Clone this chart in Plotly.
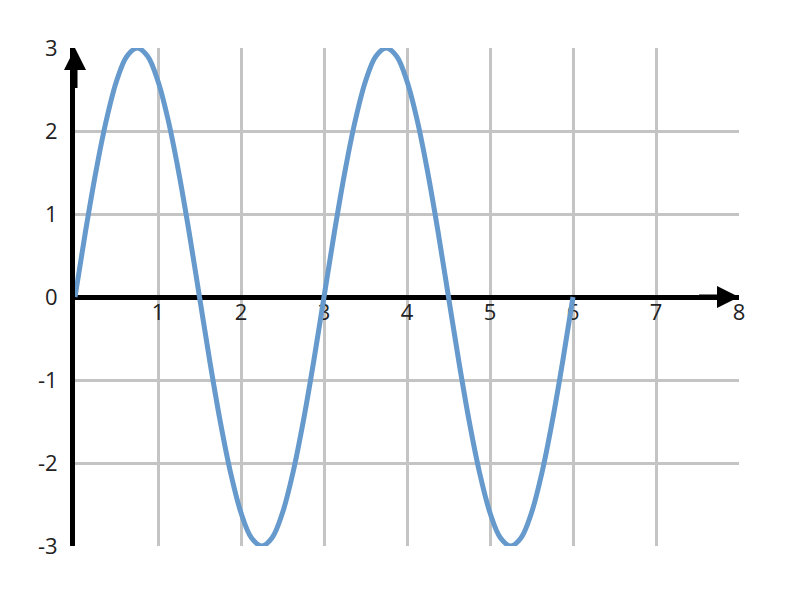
import plotly.graph_objects as go

x_vals = [i * 0.125 for i in range(49)]
y_vals = [0, 0.78, 1.5, 2.12, 2.6, 2.9, 3, 2.9, 2.6, 2.12, 1.5, 0.78,
          0, -0.78, -1.5, -2.12, -2.6, -2.9, -3, -2.9, -2.6, -2.12, -1.5, -0.78,
          0, 0.78, 1.5, 2.12, 2.6, 2.9, 3, 2.9, 2.6, 2.12, 1.5, 0.78,
          0, -0.78, -1.5, -2.12, -2.6, -2.9, -3, -2.9, -2.6, -2.12, -1.5, -0.78,
          0]

x_ticks = [1, 2, 3, 4, 5, 6, 7, 8]
x_tick_labels = ["1", "2", "3", "4", "5", "6", "7", "8"]
y_ticks = [-3, -2, -1, 0, 1, 2, 3]
y_tick_labels = ["-3", "-2", "-1", "0", "1", "2", "3"]

fig = go.Figure()
fig.add_trace(go.Scatter(
    x=x_vals, y=y_vals, mode="lines",
    line=dict(color="#6699CC", width=5, shape="spline", smoothing=1.0),
    hoverinfo="skip", showlegend=False,
))

grid = "#C4C4C4"
tick_font = dict(family="Open Sans", size=22, color="#222222")
fig.update_layout(
    width=800, height=600,
    margin=dict(l=67, r=69, t=40, b=62),
    paper_bgcolor="white", plot_bgcolor="white",
    font=dict(family="Open Sans", size=22, color="#222222"),
    xaxis=dict(
        range=[0, 8], tickvals=x_ticks, ticktext=x_tick_labels, tickfont=tick_font,
        showgrid=True, gridcolor=grid, gridwidth=3,
        zeroline=False, showline=True, linecolor="black", linewidth=5,
        anchor="free", position=0.5, ticks="", layer="below traces",
        ticklabelstandoff=-6,
    ),
    yaxis=dict(
        range=[-3, 3], tickvals=y_ticks, ticktext=y_tick_labels, tickfont=tick_font,
        showgrid=True, gridcolor=grid, gridwidth=3,
        zeroline=False, showline=True, linecolor="black", linewidth=5,
        ticks="", layer="below traces", ticklabelstandoff=8,
    ),
)

# arrowheads on the axes
fig.add_annotation(x=8, y=0, ax=7.5, ay=0, xref="x", yref="y", axref="x", ayref="y",
                   showarrow=True, arrowhead=2, arrowsize=0.88, arrowwidth=5,
                   arrowcolor="black", text="")
fig.add_annotation(x=0, y=3, ax=0, ay=2.5, xref="x", yref="y", axref="x", ayref="y",
                   showarrow=True, arrowhead=2, arrowsize=0.88, arrowwidth=5,
                   arrowcolor="black", text="")

fig.write_html("out.html")
